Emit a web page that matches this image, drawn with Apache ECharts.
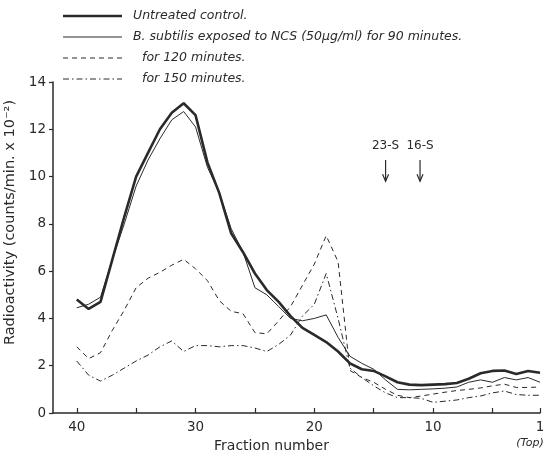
<!DOCTYPE html>
<html>
<head>
<meta charset="utf-8">
<script src="https://cdn.jsdelivr.net/npm/echarts@6/dist/echarts.min.js"></script>
<style>
  html, body { margin: 0; padding: 0; background: #fff; }
  #main { width: 552px; height: 455px; }
</style>
</head>
<body>
<div id="main"></div>
<script>
// fraction numbers, 40 (bottom of gradient) .. 1 (top)
var fractions = [40, 39, 38, 37, 36, 35, 34, 33, 32, 31, 30, 29, 28, 27, 26, 25, 24, 23, 22, 21,
                 20, 19, 18, 17, 16, 15, 14, 13, 12, 11, 10, 9, 8, 7, 6, 5, 4, 3, 2, 1];

// radioactivity, counts/min x 10^-2
var control = [4.8, 4.4, 4.7, 6.5, 8.3, 10.0, 11.0, 12.0, 12.7, 13.1, 12.6, 10.6, 9.3, 7.6, 6.8, 5.9, 5.2, 4.7, 4.1, 3.6,
               3.3, 3.0, 2.6, 2.1, 1.85, 1.78, 1.55, 1.3, 1.2, 1.18, 1.2, 1.22, 1.27, 1.45, 1.68, 1.78, 1.8, 1.65, 1.78, 1.7];
var min90 = [4.45, 4.6, 4.9, 6.5, 8.0, 9.6, 10.7, 11.6, 12.4, 12.75, 12.1, 10.4, 9.3, 7.8, 6.8, 5.3, 5.0, 4.5, 4.0, 3.9,
             4.0, 4.15, 3.2, 2.4, 2.1, 1.85, 1.4, 1.0, 0.98, 1.0, 1.02, 1.05, 1.1, 1.3, 1.4, 1.3, 1.5, 1.4, 1.5, 1.3];
var min120 = [2.8, 2.3, 2.55, 3.5, 4.35, 5.3, 5.7, 5.95, 6.25, 6.5, 6.1, 5.6, 4.75, 4.3, 4.2, 3.4, 3.35, 3.9, 4.5, 5.4,
              6.3, 7.5, 6.4, 1.8, 1.5, 1.3, 1.0, 0.75, 0.65, 0.72, 0.8, 0.88, 0.95, 1.0, 1.06, 1.15, 1.22, 1.08, 1.08, 1.1];
var min150 = [2.2, 1.6, 1.35, 1.6, 1.9, 2.2, 2.45, 2.8, 3.05, 2.6, 2.85, 2.85, 2.8, 2.85, 2.85, 2.75, 2.6, 2.9, 3.3, 4.1,
              4.6, 5.9, 4.0, 1.9, 1.5, 1.15, 0.85, 0.65, 0.65, 0.62, 0.45, 0.5, 0.55, 0.65, 0.72, 0.85, 0.93, 0.78, 0.75, 0.75];

var xTicks = [40, 35, 30, 25, 20, 15, 10, 5, 1];
var xLabels = [40, 30, 20, 10, 1];

// sedimentation markers
var markers = [
  { name: "23-S", fraction: 14 },
  { name: "16-S", fraction: 11.1 }
];

var legendItems = [
  { text: "Untreated control.", width: 2.6, dash: null, indent: 0 },
  { text: "B. subtilis exposed to NCS (50\u00b5g/ml) for 90 minutes.", width: 1, dash: null, indent: 0 },
  { text: "for 120 minutes.", width: 1, dash: [5, 4], indent: 9 },
  { text: "for 150 minutes.", width: 1, dash: [6, 3, 1.5, 3], indent: 9 }
];

function pairs(ys) {
  return fractions.map(function (f, i) { return [f, ys[i]]; });
}

var font = "DejaVu Sans";
var ink = "#2a2a2a";

var chart = echarts.init(document.getElementById("main"));

function lineSeries(name, ys, width, dash) {
  return {
    name: name,
    type: "line",
    data: pairs(ys),
    symbol: "none",
    silent: true,
    lineStyle: { color: ink, width: width, type: dash || "solid" }
  };
}

var option = {
  animation: false,
  backgroundColor: "#fff",
  grid: { left: 53, right: 12, top: 82, bottom: 42, outerBoundsMode: "none" },
  xAxis: {
    type: "value",
    inverse: true,
    min: 1,
    max: 42,
    name: "Fraction number",
    nameLocation: "middle",
    nameGap: 22,
    nameTextStyle: { fontFamily: font, fontSize: 14, color: ink, padding: [0, 50, 0, 0] },
    axisLine: { lineStyle: { color: ink, width: 1.5 } },
    axisTick: { inside: true, length: 5, customValues: xTicks, lineStyle: { color: ink, width: 1.2 } },
    axisLabel: { customValues: xLabels, fontFamily: font, fontSize: 13.5, color: ink, margin: 7 },
    splitLine: { show: false }
  },
  yAxis: {
    type: "value",
    min: 0,
    max: 14,
    interval: 2,
    name: "Radioactivity (counts/min. x 10\u207b\u00b2)",
    nameLocation: "middle",
    nameGap: 31,
    nameTextStyle: { fontFamily: font, fontSize: 14.5, color: ink, padding: [0, 0, 0, 50] },
    axisLine: { show: true, lineStyle: { color: ink, width: 1.5 } },
    axisTick: { show: true, length: 4, lineStyle: { color: ink, width: 1.2 } },
    axisLabel: { fontFamily: font, fontSize: 13.5, color: ink, margin: 7 },
    splitLine: { show: false }
  },
  series: [
    lineSeries("Untreated control", control, 2.6),
    lineSeries("90 minutes", min90, 1),
    lineSeries("120 minutes", min120, 1, [5, 4]),
    lineSeries("150 minutes", min150, 1, [6, 3, 1.5, 3])
  ]
};

chart.setOption(option);

// legend block, annotations and "(Top)" label
var g = [];
legendItems.forEach(function (it, i) {
  var y = 16 + i * 21;
  g.push({
    type: "line",
    shape: { x1: 63, y1: y, x2: 122, y2: y },
    style: { stroke: ink, lineWidth: it.width, lineDash: it.dash }
  });
  g.push({
    type: "text",
    x: 133 + it.indent, y: y,
    style: { text: it.text, font: "italic 12.5px " + font, fill: ink, verticalAlign: "middle" }
  });
});

markers.forEach(function (m) {
  var top = chart.convertToPixel({ gridIndex: 0 }, [m.fraction, 11.3]);
  var a1 = chart.convertToPixel({ gridIndex: 0 }, [m.fraction, 10.7]);
  var a2 = chart.convertToPixel({ gridIndex: 0 }, [m.fraction, 9.8]);
  g.push({
    type: "text",
    x: top[0], y: top[1],
    style: { text: m.name, font: "12px " + font, fill: ink, align: "center", verticalAlign: "middle" }
  });
  g.push({
    type: "line",
    shape: { x1: a1[0], y1: a1[1], x2: a2[0], y2: a2[1] },
    style: { stroke: ink, lineWidth: 1.2 }
  });
  g.push({
    type: "polyline",
    shape: { points: [[a2[0] - 3, a2[1] - 7], [a2[0], a2[1]], [a2[0] + 3, a2[1] - 7]] },
    style: { stroke: ink, lineWidth: 1.2, fill: null }
  });
});

var one = chart.convertToPixel({ gridIndex: 0 }, [1, 0]);
g.push({
  type: "text",
  x: one[0] - 10, y: one[1] + 30,
  style: { text: "(Top)", font: "italic 11px " + font, fill: ink, align: "center", verticalAlign: "middle" }
});

chart.setOption({ graphic: g });
</script>
</body>
</html>
